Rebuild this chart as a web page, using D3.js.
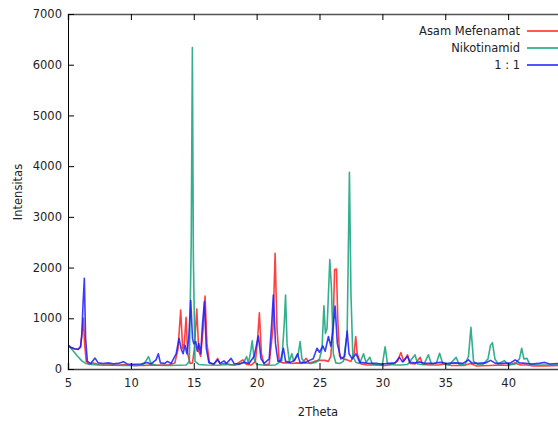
<!DOCTYPE html>
<html>
<head>
<meta charset="utf-8">
<script src="https://cdn.jsdelivr.net/npm/d3@7"></script>
<style>
  html, body { margin: 0; padding: 0; background: #fff; overflow: hidden; }
  svg { display: block; }
  text { font-family: "DejaVu Sans", Verdana, sans-serif; fill: #222; }
</style>
</head>
<body>
<svg id="chart" width="558" height="421"></svg>
<script>
// Diffraction patterns: [2theta, intensity]
const asamMefenamat = [
  [5.0,460],[5.2,430],[5.5,400],[5.8,390],[6.0,450],[6.1,650],[6.22,1000],[6.32,500],[6.45,150],[6.7,90],
  [7.0,120],[7.5,85],[8.0,80],[8.5,85],[9.0,75],[9.5,90],[10.0,70],[10.5,70],[11.0,70],[11.5,80],
  [12.0,75],[12.5,80],[13.0,80],[13.5,120],[13.75,400],[13.96,1160],[14.12,400],[14.25,500],[14.39,1020],[14.52,300],
  [14.7,110],[14.9,120],[15.05,400],[15.24,1180],[15.4,350],[15.55,250],[15.75,800],[15.9,1440],[16.05,500],[16.25,120],
  [16.6,90],[16.9,210],[17.1,100],[17.5,110],[17.9,90],[18.3,80],[18.9,180],[19.2,90],[19.6,80],[19.9,150],
  [20.05,500],[20.22,1110],[20.38,300],[20.6,80],[21.0,100],[21.3,800],[21.47,2280],[21.62,800],[21.8,150],[22.1,120],
  [22.5,120],[22.8,110],[23.2,120],[23.6,110],[23.94,210],[24.2,120],[24.6,150],[25.0,170],[25.4,170],[25.7,150],
  [25.9,250],[26.1,1000],[26.2,1960],[26.35,1970],[26.45,1000],[26.6,250],[26.9,200],[27.2,180],[27.5,150],[27.75,300],
  [27.88,640],[28.0,300],[28.3,100],[28.8,80],[29.5,80],[30.2,70],[30.8,90],[31.2,150],[31.47,325],[31.7,150],
  [32.0,280],[32.2,110],[32.6,100],[33.0,230],[33.2,90],[33.8,80],[34.5,80],[35.0,100],[35.5,70],[36.5,70],
  [37.0,110],[37.5,60],[38.5,70],[39.5,80],[40.0,70],[40.5,120],[41.0,80],[41.5,80],[42.0,60],[43.0,60],
  [44.0,70],[45.0,70]
];

const nikotinamid = [
  [5.0,470],[5.2,420],[5.5,330],[5.8,240],[6.1,160],[6.4,110],[6.8,90],[7.5,80],[8.5,75],[9.5,70],
  [10.5,70],[11.0,90],[11.2,160],[11.4,245],[11.6,110],[12.0,75],[13.0,70],[13.8,75],[14.4,80],[14.65,150],
  [14.8,2500],[14.89,6340],[14.97,2200],[15.1,150],[15.4,90],[16.0,80],[17.0,75],[17.5,90],[18.0,80],[18.6,90],
  [19.0,140],[19.2,245],[19.35,120],[19.5,300],[19.65,555],[19.8,200],[20.0,90],[20.5,80],[21.0,75],[21.5,80],
  [22.0,160],[22.2,900],[22.3,1460],[22.42,500],[22.6,150],[22.8,300],[22.95,150],[23.3,280],[23.46,540],[23.6,200],
  [23.9,120],[24.3,110],[24.7,130],[25.0,200],[25.2,400],[25.35,1245],[25.47,700],[25.6,800],[25.82,2160],[25.95,1600],
  [26.1,300],[26.3,120],[26.6,110],[26.9,150],[27.2,700],[27.38,3880],[27.5,1500],[27.65,250],[27.9,130],[28.2,110],
  [28.5,300],[28.7,130],[29.0,230],[29.2,100],[29.6,85],[30.0,90],[30.22,440],[30.4,110],[31.0,80],[31.5,80],
  [32.0,90],[32.6,280],[32.8,100],[33.3,90],[33.66,280],[33.9,100],[34.3,120],[34.55,310],[34.8,110],[35.3,80],
  [35.87,230],[36.1,90],[36.6,100],[36.85,250],[37.04,820],[37.25,150],[37.6,90],[38.0,90],[38.4,200],[38.6,470],
  [38.75,520],[38.95,200],[39.2,100],[39.7,165],[40.0,90],[40.5,90],[40.9,200],[41.08,410],[41.25,200],[41.5,210],
  [41.7,100],[42.2,80],[43.0,80],[44.0,80],[45.0,80]
];

const campuran = [
  [5.0,475],[5.2,430],[5.5,400],[5.8,385],[6.0,430],[6.1,700],[6.2,1300],[6.3,1790],[6.4,600],[6.54,150],
  [6.8,110],[7.15,215],[7.4,120],[7.8,110],[8.2,120],[8.6,105],[9.0,110],[9.4,145],[9.7,100],[10.2,95],
  [10.8,100],[11.3,130],[11.6,100],[12.0,180],[12.18,300],[12.35,120],[12.7,110],[12.9,150],[13.2,110],[13.6,300],
  [13.83,605],[14.0,400],[14.15,300],[14.31,470],[14.45,300],[14.6,600],[14.76,1350],[14.9,600],[15.0,500],[15.16,540],
  [15.28,350],[15.4,500],[15.55,300],[15.7,900],[15.85,1330],[16.0,400],[16.2,130],[16.6,100],[16.9,180],[17.1,110],
  [17.4,160],[17.6,110],[17.97,210],[18.2,110],[18.6,100],[19.0,130],[19.4,110],[19.8,250],[20.14,650],[20.35,200],
  [20.6,110],[21.0,200],[21.2,900],[21.33,1460],[21.5,500],[21.7,150],[21.9,160],[22.13,410],[22.3,150],[22.7,130],
  [23.0,170],[23.25,300],[23.45,130],[23.8,120],[24.2,170],[24.5,200],[24.8,410],[25.0,330],[25.26,455],[25.45,350],
  [25.71,640],[25.9,450],[26.05,700],[26.24,1240],[26.42,500],[26.7,200],[27.0,250],[27.2,750],[27.35,300],[27.6,200],
  [27.9,300],[28.2,130],[28.6,120],[29.0,110],[29.6,110],[30.0,100],[30.5,110],[31.0,120],[31.36,230],[31.6,140],
  [32.0,250],[32.2,130],[32.6,120],[33.0,140],[33.4,110],[34.0,110],[34.6,130],[35.2,110],[35.8,120],[36.4,110],
  [36.85,180],[37.1,120],[37.6,110],[38.2,120],[38.6,170],[39.0,110],[39.6,110],[40.2,120],[40.56,180],[40.9,120],
  [41.4,110],[41.9,100],[42.4,110],[42.9,130],[43.3,100],[44.0,110],[45.0,100]
];

const seriesNames = ["Asam Mefenamat", "Nikotinamid", "1 : 1"];
const seriesColors = ["#ff2020", "#10a07a", "#1a1aff"];
const xTicks = [5, 10, 15, 20, 25, 30, 35, 40];
const yTicks = [0, 1000, 2000, 3000, 4000, 5000, 6000, 7000];

const svg = d3.select("#chart");
const margin = { left: 68, top: 14 };
const plotW = 503, plotH = 355;

const x = d3.scaleLinear().domain([5, 45]).range([margin.left, margin.left + plotW]);
const y = d3.scaleLinear().domain([0, 7000]).range([margin.top + plotH, margin.top]);

// clip so traces stay inside the frame
svg.append("clipPath").attr("id", "plotClip")
  .append("rect").attr("x", margin.left).attr("y", margin.top).attr("width", plotW).attr("height", plotH);

const line = d3.line().x(d => x(d[0])).y(d => y(d[1]));
const traces = [asamMefenamat, nikotinamid, campuran];
const g = svg.append("g").attr("clip-path", "url(#plotClip)");
traces.forEach((data, i) => {
  g.append("path").datum(data)
    .attr("d", line)
    .attr("fill", "none")
    .attr("stroke", seriesColors[i])
    .attr("stroke-width", 1.6)
    .attr("stroke-opacity", 0.85)
    .attr("stroke-linejoin", "round");
});

// bottom axis with inward ticks
const xAxis = d3.axisBottom(x).tickValues(xTicks).tickSize(-6).tickPadding(10).tickFormat(d3.format("d"));
const gx = svg.append("g").attr("transform", `translate(0,${margin.top + plotH})`).call(xAxis);
gx.select(".domain").attr("stroke", "#444").attr("stroke-width", 1.5);
gx.selectAll(".tick line").attr("stroke", "#000");
gx.selectAll("text").attr("font-size", 11.5).attr("font-family", "DejaVu Sans, sans-serif").attr("fill", "#222");

// mirrored top axis
const xTop = d3.axisTop(x).tickValues(xTicks).tickSize(-6).tickFormat("");
const gt = svg.append("g").attr("transform", `translate(0,${margin.top})`).call(xTop);
gt.select(".domain").attr("stroke", "#555").attr("stroke-width", 1.5);
gt.selectAll(".tick line").attr("stroke", "#000");

// left axis with inward ticks
const yAxis = d3.axisLeft(y).tickValues(yTicks).tickSize(-6).tickPadding(6).tickFormat(d3.format("d"));
const gy = svg.append("g").attr("transform", `translate(${margin.left},0)`).call(yAxis);
gy.select(".domain").attr("stroke", "#000").attr("stroke-width", 1);
gy.selectAll(".tick line").attr("stroke", "#000");
gy.selectAll("text").attr("font-size", 11.5).attr("font-family", "DejaVu Sans, sans-serif").attr("fill", "#222");

// axis titles
svg.append("text").attr("x", 318).attr("y", 416).attr("text-anchor", "middle")
  .attr("font-size", 11.5).text("2Theta");
svg.append("text").attr("transform", "translate(22,192) rotate(-90)").attr("text-anchor", "middle")
  .attr("font-size", 11.5).text("Intensitas");

// legend
seriesNames.forEach((name, i) => {
  const ly = 31 + i * 17;
  svg.append("text").attr("x", 520).attr("y", ly + 4).attr("text-anchor", "end")
    .attr("font-size", 11.5).text(name);
  svg.append("line").attr("x1", 527).attr("x2", 575).attr("y1", ly).attr("y2", ly)
    .attr("stroke", seriesColors[i]).attr("stroke-width", 1.5);
});
</script>
</body>
</html>
